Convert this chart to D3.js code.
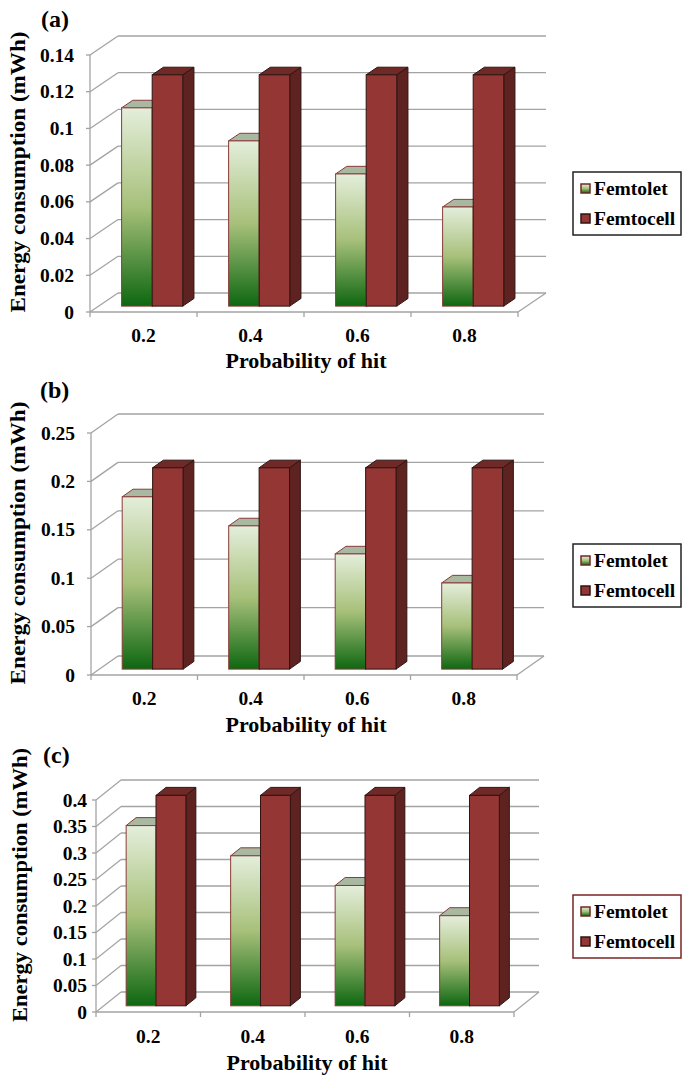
<!DOCTYPE html>
<html>
<head>
<meta charset="utf-8">
<script src="https://cdn.jsdelivr.net/npm/d3@7"></script>
<style>
  body { margin: 0; background: #fff; }
</style>
</head>
<body>
<div id="chart"></div>
<script>
// data
const categories = ["0.2", "0.4", "0.6", "0.8"]
const seriesNames = ["Femtolet", "Femtocell"]

const femtoletA = [0.108, 0.090, 0.072, 0.054]
const femtocellA = [0.126, 0.126, 0.126, 0.126]
const ticksA = [0, 0.02, 0.04, 0.06, 0.08, 0.1, 0.12, 0.14]

const femtoletB = [0.178, 0.148, 0.119, 0.089]
const femtocellB = [0.208, 0.208, 0.208, 0.208]
const ticksB = [0, 0.05, 0.1, 0.15, 0.2, 0.25]

const femtoletC = [0.340, 0.283, 0.227, 0.170]
const femtocellC = [0.397, 0.397, 0.397, 0.397]
const ticksC = [0, 0.05, 0.1, 0.15, 0.2, 0.25, 0.3, 0.35, 0.4]

const xTitle = "Probability of hit"
const yTitle = "Energy consumption (mWh)"

let width = 682,
    height = 1075;

let svg = d3.select('#chart')
    .append('svg')
    .attr("width", width)
    .attr("height", height)
    .attr("font-family", "Liberation Serif")
    .attr("font-weight", "bold")

let defs = svg.append("defs")
let grad = defs.append("linearGradient")
    .attr("id", "greenGrad")
    .attr("x1", 0).attr("y1", 0).attr("x2", 0).attr("y2", 1)
grad.append("stop").attr("offset", "0%").attr("stop-color", "#e4eedb")
grad.append("stop").attr("offset", "50%").attr("stop-color", "#a7c07a")
grad.append("stop").attr("offset", "100%").attr("stop-color", "#0e6711")

const gridColor = "#a3a3a3"

function drawPanel(p) {
    let g = svg.append("g")
    let yScale = d3.scaleLinear().domain([0, p.vmax]).range([p.y0, p.ytop])
    let xScale = d3.scaleBand().domain(categories).range([p.x0, p.x1]).paddingInner(0).paddingOuter(0)
    let inner = d3.scaleBand().domain(seriesNames).range([0, xScale.bandwidth()]).paddingOuter(0.75).paddingInner(0)

    // back wall gridlines
    g.selectAll(".back").data(p.ticks).enter().append("line")
        .attr("x1", p.x0 + p.dx).attr("x2", p.x1 + p.dx)
        .attr("y1", d => yScale(d) + p.dy).attr("y2", d => yScale(d) + p.dy)
        .attr("stroke", gridColor).attr("stroke-width", 1.3)
    // side wall diagonals
    g.selectAll(".side").data(p.ticks).enter().append("line")
        .attr("x1", p.x0).attr("x2", p.x0 + p.dx)
        .attr("y1", d => yScale(d)).attr("y2", d => yScale(d) + p.dy)
        .attr("stroke", gridColor).attr("stroke-width", 1.3)
    // floor right edge and front line
    g.append("line")
        .attr("x1", p.x1).attr("y1", p.y0).attr("x2", p.x1 + p.dx).attr("y2", p.y0 + p.dy)
        .attr("stroke", gridColor).attr("stroke-width", 1.3)
    g.append("line")
        .attr("x1", p.x0).attr("y1", p.y0).attr("x2", p.x1).attr("y2", p.y0)
        .attr("stroke", gridColor).attr("stroke-width", 1.3)
    g.append("line")
        .attr("x1", p.x0).attr("y1", p.y0).attr("x2", p.x0).attr("y2", p.ytop)
        .attr("stroke", gridColor).attr("stroke-width", 1.3)
    // y ticks
    g.selectAll(".yt").data(p.ticks).enter().append("line")
        .attr("x1", p.x0 - 4).attr("x2", p.x0)
        .attr("y1", d => yScale(d)).attr("y2", d => yScale(d))
        .attr("stroke", gridColor).attr("stroke-width", 1.3)
    // x ticks at category boundaries
    let bounds = categories.map(c => xScale(c)).concat([p.x1])
    g.selectAll(".xt").data(bounds).enter().append("line")
        .attr("x1", d => d).attr("x2", d => d)
        .attr("y1", p.y0).attr("y2", p.y0 + 5)
        .attr("stroke", gridColor).attr("stroke-width", 1.3)

    // bars
    let f = 0.31, bd = 0.4
    let sx = f * p.dx, sy = f * p.dy
    let bdx = bd * p.dx, bdy = bd * p.dy
    let base = p.y0 + sy
    let bars = []
    categories.forEach(function (c, i) {
        bars.push({ s: "Femtolet", c: c, v: p.femtolet[i] })
        bars.push({ s: "Femtocell", c: c, v: p.femtocell[i] })
    })
    let w = inner.bandwidth()
    bars.forEach(function (d) {
        let bx = xScale(d.c) + inner(d.s) + sx
        let top = yScale(d.v) + sy
        let green = d.s == "Femtolet"
        let edge = green ? "#8a3c38" : "#2e1512"
        // side
        g.append("polygon")
            .attr("points", [[bx + w, top], [bx + w + bdx, top + bdy], [bx + w + bdx, base + bdy], [bx + w, base]].join(" "))
            .attr("fill", green ? "#5d8f4d" : "#5e2321")
            .attr("stroke", edge).attr("stroke-width", 1).attr("stroke-linejoin", "round")
        // top
        g.append("polygon")
            .attr("points", [[bx, top], [bx + w, top], [bx + w + bdx, top + bdy], [bx + bdx, top + bdy]].join(" "))
            .attr("fill", green ? "#a9b8a0" : "#6f2a27")
            .attr("stroke", edge).attr("stroke-width", 1).attr("stroke-linejoin", "round")
        // front
        g.append("rect")
            .attr("x", bx).attr("y", top)
            .attr("width", w).attr("height", base - top)
            .attr("fill", green ? "url(#greenGrad)" : "#943634")
            .attr("stroke", edge).attr("stroke-width", 1)
    })

    // tick labels
    g.selectAll(".yl").data(p.ticks).enter().append("text")
        .attr("x", p.labelX).attr("y", d => yScale(d) + 6.5)
        .attr("text-anchor", "end")
        .attr("font-size", 19.5)
        .text(d => String(d))
    g.selectAll(".xl").data(categories).enter().append("text")
        .attr("x", d => xScale(d) + xScale.bandwidth() / 2)
        .attr("y", p.xLabelY)
        .attr("text-anchor", "middle")
        .attr("font-size", 19.5)
        .text(d => d)

    // titles
    g.append("text")
        .attr("x", (p.x0 + p.x1) / 2 + 2).attr("y", p.xTitleY)
        .attr("text-anchor", "middle")
        .attr("font-size", 21)
        .attr("textLength", 161).attr("lengthAdjust", "spacingAndGlyphs")
        .text(xTitle)
    g.append("text")
        .attr("transform", "translate(" + p.yTitleX + "," + p.yTitleY + ") rotate(-90)")
        .attr("text-anchor", "middle")
        .attr("font-size", 21)
        .attr("textLength", p.yTitleLen).attr("lengthAdjust", "spacingAndGlyphs")
        .text(yTitle)
    g.append("text")
        .attr("x", p.tagX).attr("y", p.tagY)
        .attr("font-size", 24)
        .text(p.tag)

    // legend
    let lg = g.append("g").attr("transform", "translate(573," + p.legY + ")")
    lg.append("rect")
        .attr("x", 0).attr("y", 0).attr("width", 108).attr("height", 63)
        .attr("fill", "#fff").attr("stroke", p.legStroke).attr("stroke-width", 1.5)
    seriesNames.forEach(function (s, i) {
        lg.append("rect")
            .attr("x", 8).attr("y", 12 + i * 30).attr("width", 9).attr("height", 9)
            .attr("fill", i == 0 ? "url(#greenGrad)" : "#943634")
            .attr("stroke", i == 0 ? "#6e2a27" : "#2e1512").attr("stroke-width", 1.5)
        lg.append("text")
            .attr("x", 21).attr("y", 23 + i * 30)
            .attr("font-size", 19.5)
            .text(s)
    })
}

drawPanel({ x0: 90, x1: 518, y0: 312, ytop: 55, dx: 28, dy: -19, vmax: 0.14, ticks: ticksA,
    femtolet: femtoletA, femtocell: femtocellA, labelX: 74, xLabelY: 342, xTitleY: 368,
    yTitleX: 25, yTitleY: 172, yTitleLen: 281, tag: "(a)", tagX: 41, tagY: 27, legY: 172, legStroke: "#222" })

drawPanel({ x0: 91, x1: 517, y0: 675, ytop: 433, dx: 27, dy: -19, vmax: 0.25, ticks: ticksB,
    femtolet: femtoletB, femtocell: femtocellB, labelX: 75, xLabelY: 705, xTitleY: 732,
    yTitleX: 25, yTitleY: 543, yTitleLen: 283, tag: "(b)", tagX: 40, tagY: 398, legY: 544, legStroke: "#222" })

drawPanel({ x0: 96, x1: 514, y0: 1012, ytop: 800, dx: 25, dy: -20, vmax: 0.4, ticks: ticksC,
    femtolet: femtoletC, femtocell: femtocellC, labelX: 87, xLabelY: 1043, xTitleY: 1070,
    yTitleX: 27, yTitleY: 885, yTitleLen: 274, tag: "(c)", tagX: 43, tagY: 763, legY: 895, legStroke: "#7a2424" })
</script>
</body>
</html>
